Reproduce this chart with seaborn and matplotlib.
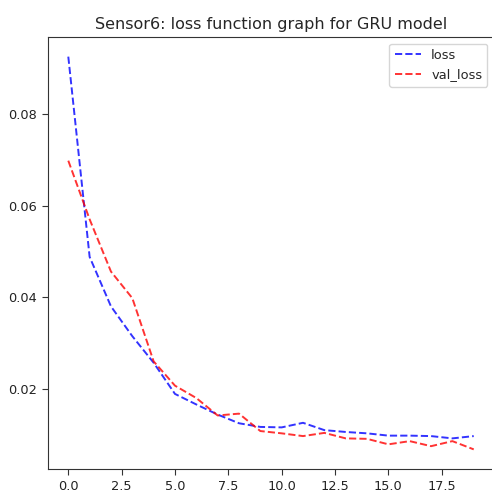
import numpy as np
import pandas as pd
import matplotlib
matplotlib.use("Agg")
import matplotlib.pyplot as plt
import seaborn as sns

# Training history of the GRU model for sensor 6
epochs = list(range(20))
loss = [0.0925, 0.0488, 0.0380, 0.0315, 0.0257, 0.0189, 0.0166, 0.0144, 0.0125, 0.0117,
        0.0116, 0.0126, 0.0110, 0.0106, 0.0103, 0.0098, 0.0098, 0.0097, 0.0092, 0.0097]
val_loss = [0.0698, 0.0570, 0.0456, 0.0398, 0.0260, 0.0207, 0.0180, 0.0142, 0.0146, 0.0108,
            0.0103, 0.0097, 0.0104, 0.0092, 0.0091, 0.0079, 0.0086, 0.0075, 0.0086, 0.0068]
yticks = [0.02, 0.04, 0.06, 0.08]
xticks = [0.0, 2.5, 5.0, 7.5, 10.0, 12.5, 15.0, 17.5]

sns.set_style("ticks")
plt.rcParams["font.family"] = ["DejaVu Sans"]

df = pd.DataFrame({"epoch": epochs, "loss": loss, "val_loss": val_loss})

fig = plt.figure(figsize=(4.92, 4.96), dpi=100)
ax = fig.add_axes([0.0976, 0.0544, 0.9065, 0.871])

sns.lineplot(data=df, x="epoch", y="loss", ax=ax, color="blue", alpha=0.8,
             linestyle="--", label="loss", linewidth=1.4)
sns.lineplot(data=df, x="epoch", y="val_loss", ax=ax, color="red", alpha=0.8,
             linestyle="--", label="val_loss", linewidth=1.4)

ax.set_xticks(xticks)
ax.set_yticks(yticks)
ax.set_xlabel("")
ax.set_ylabel("")
ax.tick_params(labelsize=9.3, length=4.5, colors="#333333", labelcolor="#222222")
for s in ax.spines.values():
    s.set_color("#333333")
ax.set_title("Sensor6: loss function graph for GRU model", fontsize=11.5, pad=6)
ax.legend(loc="upper right", fontsize=9.4, frameon=True)

fig.savefig("out.png", dpi=100)
